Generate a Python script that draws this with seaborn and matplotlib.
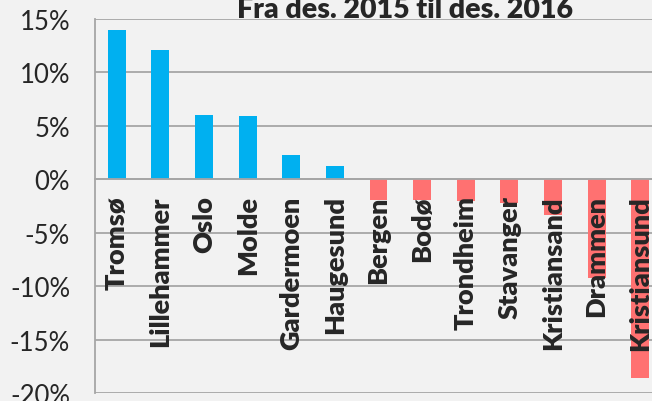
import pandas as pd
import matplotlib
matplotlib.use("Agg")
import matplotlib.pyplot as plt
import matplotlib.ticker as mticker
import seaborn as sns

byer = ["Tromsø", "Lillehammer", "Oslo", "Molde", "Gardermoen", "Haugesund",
        "Bergen", "Bodø", "Trondheim", "Stavanger", "Kristiansand", "Drammen",
        "Kristiansund"]
endring = [14.0, 12.1, 6.0, 5.9, 2.3, 1.2, -1.9, -1.9, -2.0, -2.2, -3.3, -9.2, -18.6]
tittel = "Fra des. 2015 til des. 2016"

data = pd.DataFrame({"by": byer, "endring": endring})
data["fortegn"] = ["pos" if v >= 0 else "neg" for v in endring]

sns.set_style("white")
plt.rcParams["font.family"] = ["Lato", "DejaVu Sans"]

bg = "#F2F2F2"
grid_col = "#A6A6A6"

fig = plt.figure(figsize=(6.52, 4.02), dpi=100, facecolor=bg)
ax = fig.add_axes([95 / 652, 8 / 402, 567 / 652, 374 / 402])
ax.set_facecolor(bg)

# gridlines behind the bars, axis labels in front of them
for v in range(-20, 16, 5):
    ax.axhline(v, color=grid_col, linewidth=1.3, zorder=0.5)

sns.barplot(data=data, x="by", y="endring", hue="fortegn",
            palette={"pos": "#00B0F0", "neg": "#FF7171"}, saturation=1,
            dodge=False, legend=False, width=0.41, linewidth=0, ax=ax, zorder=1)
ax.set_axisbelow(False)

ax.set_ylim(-20, 15)
ax.set_xlim(-0.5, len(byer) - 0.5)
ax.yaxis.set_major_locator(mticker.MultipleLocator(5))
ax.yaxis.set_major_formatter(mticker.FuncFormatter(lambda v, p: f"{v:.0f}%"))
ax.grid(False)

for s in ["top", "right"]:
    ax.spines[s].set_visible(False)
ax.spines["left"].set_color(grid_col)
ax.spines["left"].set_linewidth(1.3)
ax.spines["bottom"].set_position(("data", 0))
ax.spines["bottom"].set_color(grid_col)
ax.spines["bottom"].set_linewidth(1.3)

ax.tick_params(axis="y", length=6, width=1.3, color=grid_col, labelsize=18.5, pad=12)
ax.set_xticks(range(len(byer)))
ax.set_xticklabels(byer, rotation=90, fontweight="heavy", fontsize=19.5, va="top")
ax.set_xticks([i + 0.5 for i in range(len(byer))], minor=True)
ax.tick_params(axis="x", which="major", length=0, pad=11.5)
ax.tick_params(axis="x", which="minor", length=6, width=1.3, color=grid_col, direction="out")

ax.set_xlabel("")
ax.set_ylabel("")

fig.text(405 / 652, 1 - 18 / 402, tittel, ha="center", va="baseline",
         fontsize=20.5, fontweight="heavy")

fig.savefig("out.png", dpi=100, facecolor=bg)
